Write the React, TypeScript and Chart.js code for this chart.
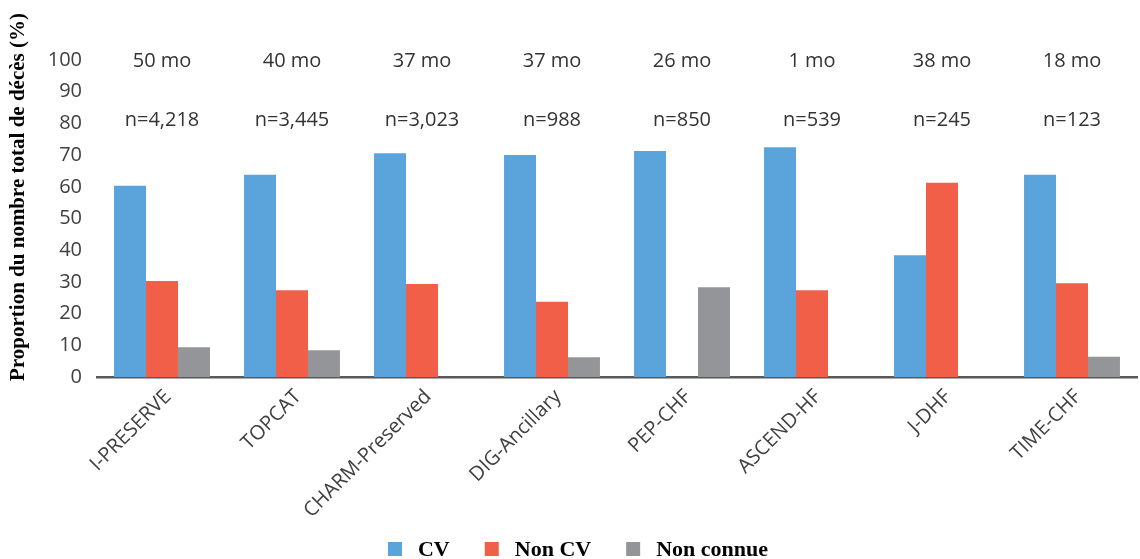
import React, { useEffect, useRef } from "react";
import { Chart, registerables } from "chart.js";

Chart.register(...registerables);

const categories = [
  "I-PRESERVE",
  "TOPCAT",
  "CHARM-Preserved",
  "DIG-Ancillary",
  "PEP-CHF",
  "ASCEND-HF",
  "J-DHF",
  "TIME-CHF",
];
const cvValues = [60.3, 63.8, 70.6, 70.0, 71.3, 72.5, 38.4, 63.8];
const nonCvValues = [30.3, 27.4, 29.3, 23.7, null, 27.4, 61.3, 29.6];
const unknownValues = [9.4, 8.4, null, 6.2, 28.3, null, null, 6.4];
const followUpLabels = ["50 mo", "40 mo", "37 mo", "37 mo", "26 mo", "1 mo", "38 mo", "18 mo"];
const sampleLabels = ["n=4,218", "n=3,445", "n=3,023", "n=988", "n=850", "n=539", "n=245", "n=123"];
const seriesNames = ["CV", "Non CV", "Non connue"];
const seriesColors = ["#5BA4DB", "#F25F48", "#939598"];
const yTitle = "Proportion du nombre total de décès (%)";

const annotationPlugin = {
  id: "topAnnotations",
  afterDatasetsDraw(chart: any) {
    const { ctx, scales } = chart;
    const x = scales.x;
    const y = scales.y;
    ctx.save();
    ctx.font = '20px "Open Sans"';
    ctx.fillStyle = "#333333";
    ctx.textAlign = "center";
    ctx.textBaseline = "middle";
    categories.forEach((_, i) => {
      const px = x.getPixelForValue(i);
      ctx.fillText(followUpLabels[i], px, y.getPixelForValue(99.6));
      ctx.fillText(sampleLabels[i], px, y.getPixelForValue(81));
    });
    ctx.restore();

    // y axis title
    ctx.save();
    ctx.font = 'bold 21px "Liberation Serif"';
    ctx.fillStyle = "#000";
    ctx.textAlign = "center";
    ctx.textBaseline = "middle";
    ctx.translate(19, 197);
    ctx.rotate(-Math.PI / 2);
    ctx.fillText(yTitle, 0, 0);
    ctx.restore();

    // legend
    ctx.save();
    ctx.font = 'bold 22px "Liberation Serif"';
    ctx.textAlign = "left";
    ctx.textBaseline = "middle";
    const box = 14;
    const gapText = 16;
    const gapItem = 35;
    const items = chart.data.datasets.map((d: any) => ({
      text: d.label,
      color: d.backgroundColor,
      w: ctx.measureText(d.label).width,
    }));
    const total =
      items.reduce((s: number, it: any) => s + box + gapText + it.w, 0) + gapItem * (items.length - 1);
    let cx = 578 - total / 2;
    const cy = 549;
    items.forEach((it: any) => {
      ctx.fillStyle = it.color;
      ctx.fillRect(cx, cy - box / 2, box, box);
      ctx.fillStyle = "#000";
      ctx.fillText(it.text, cx + box + gapText, cy + 1);
      cx += box + gapText + it.w + gapItem;
    });
    ctx.restore();
  },
};

export default function App() {
  const canvasRef = useRef<HTMLCanvasElement | null>(null);

  useEffect(() => {
    if (!canvasRef.current) return;
    const chart = new Chart(canvasRef.current, {
      type: "bar",
      data: {
        labels: categories,
        datasets: [
          { label: seriesNames[0], data: cvValues, backgroundColor: seriesColors[0], borderWidth: 0 },
          { label: seriesNames[1], data: nonCvValues, backgroundColor: seriesColors[1], borderWidth: 0 },
          { label: seriesNames[2], data: unknownValues, backgroundColor: seriesColors[2], borderWidth: 0 },
        ],
      },
      options: {
        responsive: false,
        animation: false,
        layout: { padding: { left: 19, right: 3, top: 60, bottom: 0 } },
        datasets: {
          bar: { categoryPercentage: 0.738, barPercentage: 1 },
        },
        plugins: {
          tooltip: { enabled: false },
          legend: { display: false },
        },
        scales: {
          x: {
            grid: { display: false, drawTicks: false },
            border: { display: true, color: "#595959", width: 2.5 },
            ticks: {
              autoSkip: false,
              maxRotation: 45,
              minRotation: 45,
              padding: 8,
              labelOffset: 6,
              color: "#404040",
              font: { family: "Open Sans", size: 20 },
            },
            afterFit(scale: any) {
              scale.height = 182;
            },
          },
          y: {
            min: 0,
            max: 100,
            grid: { display: false, drawTicks: false },
            border: { display: false },
            ticks: {
              stepSize: 10,
              padding: 15,
              color: "#404040",
              font: { family: "Open Sans", size: 20 },
            },
            afterFit(scale: any) {
              scale.width = 78;
            },
          },
        },
      },
      plugins: [annotationPlugin],
    });
    return () => chart.destroy();
  }, []);

  return (
    <div style={{ position: "fixed", left: 0, top: 0, width: 1140, height: 559, background: "#fff" }}>
      <canvas ref={canvasRef} width={1140} height={559} />
    </div>
  );
}
